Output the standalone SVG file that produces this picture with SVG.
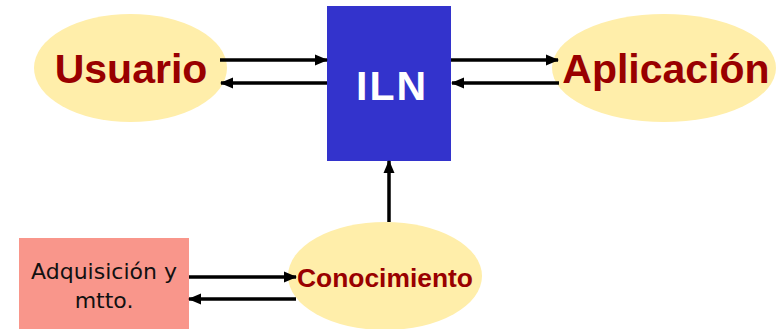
<svg xmlns="http://www.w3.org/2000/svg" width="776" height="329" viewBox="0 0 776 329">
<style>
.ell{fill:#FFEEAA;stroke:none}
.lbl{font-family:"Liberation Sans",Arial,sans-serif;font-weight:bold;fill:#990000;text-anchor:middle}
.con{stroke:#000;stroke-width:3.5;fill:none}
.sm{font-family:"DejaVu Sans",Verdana,sans-serif;font-size:22px;fill:#111;text-anchor:middle}
</style>
<defs>
<marker id="ah" markerUnits="userSpaceOnUse" markerWidth="13" markerHeight="13" refX="12" refY="6.5" orient="auto" viewBox="0 0 13 13">
<path d="M0,1 L13,6.5 L0,12 Z" fill="#000"/>
</marker>
</defs>
<rect width="776" height="329" fill="#fff"/>
<g id="usuario">
<ellipse class="ell" cx="130.5" cy="68" rx="96.5" ry="54"/>
<text class="lbl" x="131" y="83" font-size="41">Usuario</text>
</g>
<g id="iln">
<rect x="327" y="6" width="124" height="155" fill="#3333CC"/>
<text x="356" y="100" font-family="'Liberation Sans',Arial,sans-serif" font-weight="bold" font-size="41" fill="#fff" letter-spacing="2">ILN</text>
</g>
<g id="aplicacion">
<ellipse class="ell" cx="664" cy="68" rx="112" ry="54"/>
<text class="lbl" x="666" y="83" font-size="41">Aplicación</text>
</g>
<g id="adquisicion">
<rect x="19" y="238" width="170" height="91" fill="#F9968B"/>
<text class="sm" x="104" y="279">Adquisición y</text>
<text class="sm" x="104" y="308">mtto.</text>
</g>
<g id="conocimiento">
<ellipse class="ell" cx="385" cy="276" rx="97" ry="54"/>
<text class="lbl" x="385" y="287" font-size="25" textLength="176" lengthAdjust="spacingAndGlyphs">Conocimiento</text>
</g>
<g id="connectors">
<line class="con" x1="220" y1="60" x2="327" y2="60" marker-end="url(#ah)"/>
<line class="con" x1="327" y1="83" x2="221" y2="83" marker-end="url(#ah)"/>
<line class="con" x1="451" y1="60" x2="558" y2="60" marker-end="url(#ah)"/>
<line class="con" x1="559" y1="83" x2="452" y2="83" marker-end="url(#ah)"/>
<line class="con" x1="389" y1="222" x2="389" y2="161" stroke-width="4" marker-end="url(#ah)"/>
<line class="con" x1="189" y1="277" x2="296" y2="277" marker-end="url(#ah)"/>
<line class="con" x1="296" y1="299" x2="189" y2="299" marker-end="url(#ah)"/>
</g>
</svg>
